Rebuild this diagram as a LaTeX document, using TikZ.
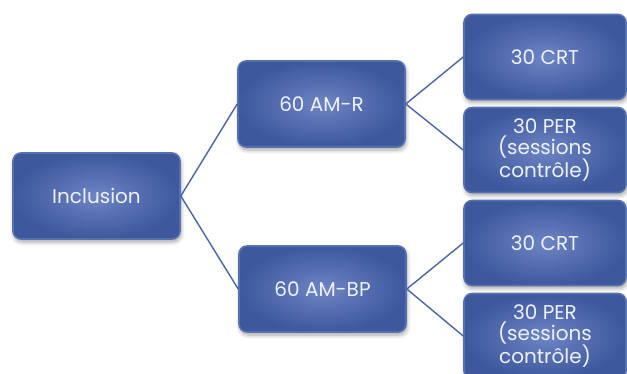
\documentclass[tikz,border=0pt]{standalone}
\usepackage{fontspec}
\setmainfont{Poppins}
\usetikzlibrary{shadows.blur}
\definecolor{boxin}{HTML}{6E84C4}
\definecolor{boxout}{HTML}{3D589D}
\definecolor{boxrim}{HTML}{5770AE}
\definecolor{linkc}{HTML}{4C64A2}
\definecolor{txtc}{HTML}{EEF1F8}
\tikzset{
  boxnode/.style={rectangle, rounded corners=8pt, draw=boxrim, line width=1.6pt,
    inner color=boxin, outer color=boxout, text=txtc, align=center,
    font=\fontsize{20}{21.5}\selectfont,
    blur shadow={shadow xshift=1pt, shadow yshift=-3pt, shadow blur steps=6, shadow opacity=35, shadow blur radius=4pt}},
  midbox/.style={boxnode, minimum width=167pt, minimum height=86pt},
  leafbox/.style={boxnode, minimum width=162pt, minimum height=85pt},
  link/.style={draw=linkc, line width=1.4pt}
}
\begin{document}
\begin{tikzpicture}[x=1pt,y=-1pt]
\useasboundingbox (0,0) rectangle (627,374);
\node[midbox] (inc) at (96.5,196) {Inclusion};
\node[midbox] (amr) at (321.5,104) {60 AM-R};
\node[midbox] (ambp) at (322.5,289) {60 AM-BP};
\node[leafbox] (crt1) at (545,57) {30 CRT};
\node[leafbox] (per1) at (545,150) {30 PER\\(sessions\\contrôle)};
\node[leafbox] (crt2) at (545,243) {30 CRT};
\node[leafbox] (per2) at (545,336) {30 PER\\(sessions\\contrôle)};
\draw[link] (inc.east) -- (amr.west);
\draw[link] (inc.east) -- (ambp.west);
\draw[link] (amr.east) -- (crt1.west);
\draw[link] (amr.east) -- (per1.west);
\draw[link] (ambp.east) -- (crt2.west);
\draw[link] (ambp.east) -- (per2.west);
\end{tikzpicture}
\end{document}
